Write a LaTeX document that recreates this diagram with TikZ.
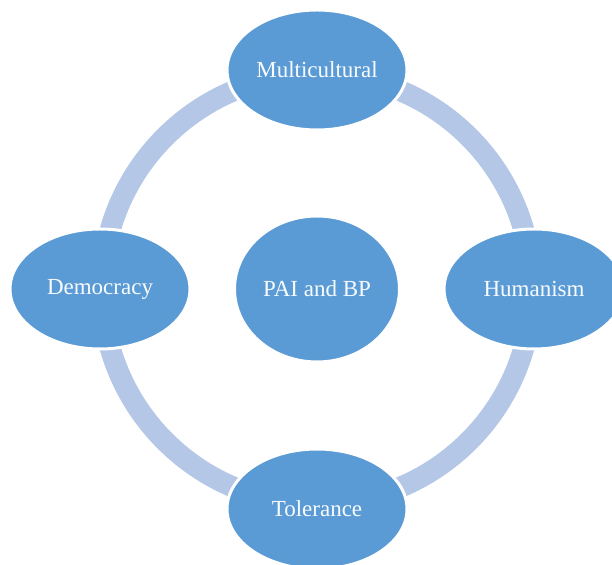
\documentclass[tikz,border=0pt]{standalone}
\usepackage{fontspec}
\setmainfont{Liberation Serif}
\usetikzlibrary{shapes.geometric}
\definecolor{cyclefill}{HTML}{5B9BD5}
\definecolor{ringblue}{HTML}{B4C7E7}

\begin{document}
\begin{tikzpicture}[x=1pt, y=1pt,
    value/.style={ellipse, fill=cyclefill, draw=white, line width=3pt,
      minimum width=180pt, minimum height=120pt, inner sep=0pt,
      text=white!96!cyclefill, font=\fontsize{23}{27}\selectfont},
    core/.style={value, minimum width=165pt, minimum height=146pt},
    ring/.style={draw=ringblue, line width=21pt}]
  \useasboundingbox (0,0) rectangle (612,564);
  %% Centre
  \node[core] (pai) at (317,275) {PAI and BP};
  %% Ring behind the values
  \draw[ring] (pai.center) circle (215);
  %% Values
  \node[value] (multi) at (317,494) {Multicultural};
  \node[value] (human) at (534,275) {Humanism};
  \node[value] (toler) at (317,55)  {Tolerance};
  \node[value] (demo)  at (100,275) {Democracy};
\end{tikzpicture}
\end{document}
